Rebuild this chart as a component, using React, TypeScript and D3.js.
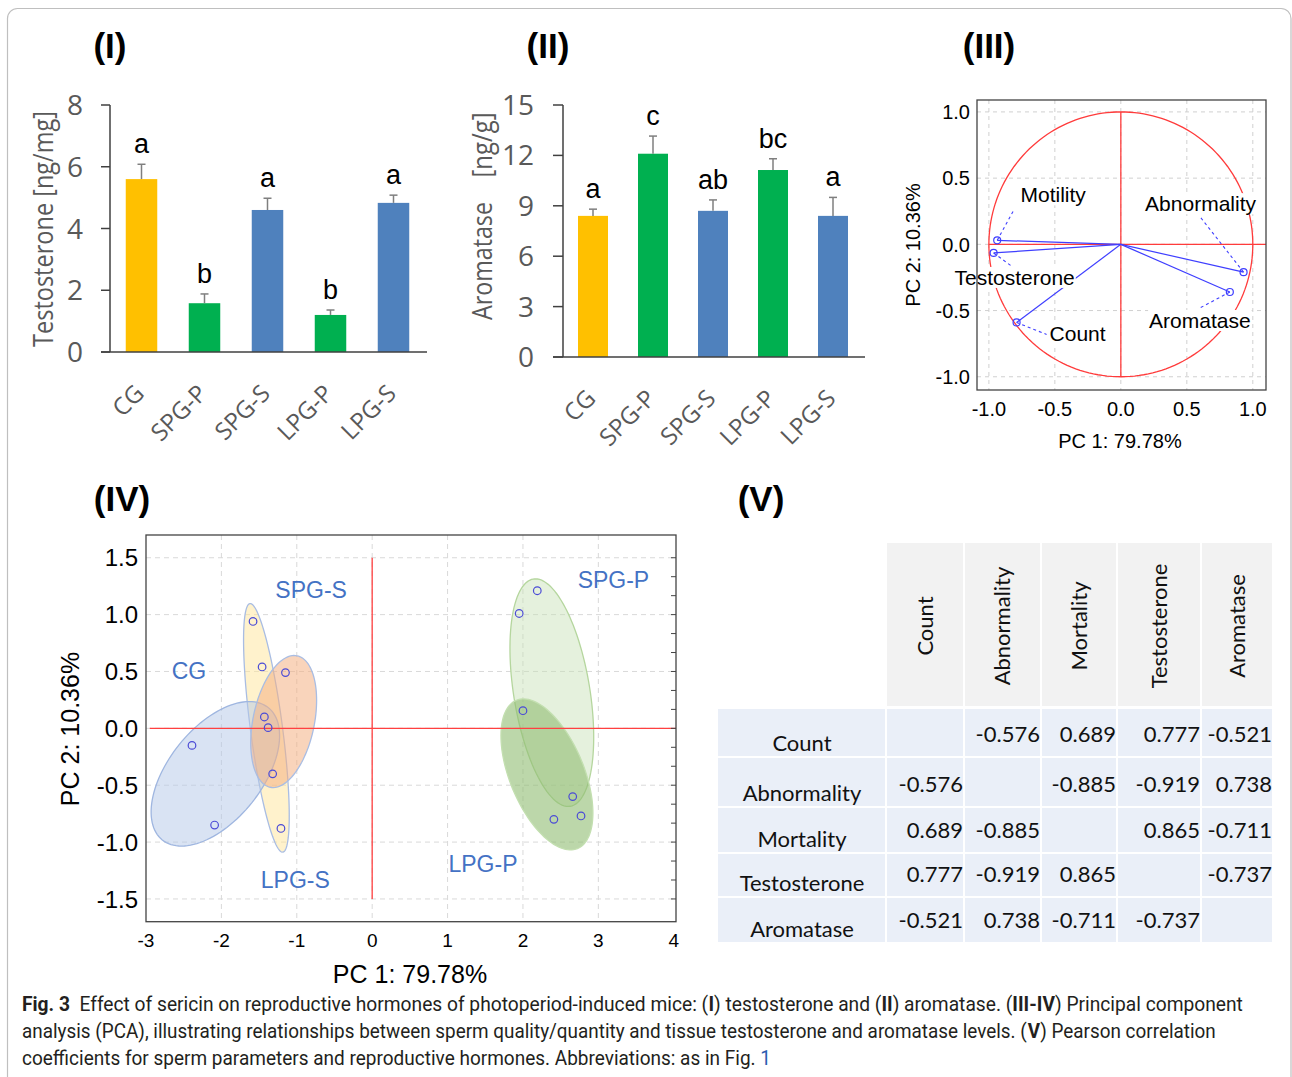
import React, { useEffect, useRef } from 'react';
import * as d3 from 'd3';

// ---------- Data ----------
const groups = ['CG', 'SPG-P', 'SPG-S', 'LPG-P', 'LPG-S'];
const barColors = ['#ffc000', '#00b050', '#4f81bd', '#00b050', '#4f81bd'];

const testosterone = [5.6, 1.58, 4.6, 1.2, 4.83];
const testosteroneErr = [0.48, 0.3, 0.38, 0.16, 0.25];
const testosteroneLetters = ['a', 'b', 'a', 'b', 'a'];
const testosteroneTicks = [0, 2, 4, 6, 8];

const aromatase = [8.4, 12.1, 8.7, 11.13, 8.4];
const aromataseErr = [0.4, 1.05, 0.65, 0.67, 1.1];
const aromataseLetters = ['a', 'c', 'ab', 'bc', 'a'];
const aromataseTicks = [0, 3, 6, 9, 12, 15];

const loadingVars = ['Motility', 'Testosterone', 'Count', 'Abnormality', 'Aromatase'];
const loadingPC1 = [-0.937, -0.964, -0.79, 0.93, 0.826];
const loadingPC2 = [0.03, -0.065, -0.59, -0.21, -0.36];
const unitTicks = [-1, -0.5, 0, 0.5, 1];

const scoreGroups = ['CG', 'CG', 'CG', 'LPG-S', 'LPG-S', 'LPG-S', 'SPG-S', 'SPG-S', 'SPG-S', 'SPG-P', 'SPG-P', 'SPG-P', 'LPG-P', 'LPG-P', 'LPG-P'];
const scorePC1 = [-2.39, -2.09, -1.46, -1.58, -1.38, -1.21, -1.15, -1.32, -1.43, 2.19, 1.95, 2.66, 2.0, 2.41, 2.77];
const scorePC2 = [-0.15, -0.85, 0.54, 0.94, 0.006, -0.88, 0.49, -0.40, 0.10, 1.21, 1.01, -0.60, 0.155, -0.80, -0.77];
const scoreXTicks = [-3, -2, -1, 0, 1, 2, 3, 4];
const scoreYTicks = [-1.5, -1.0, -0.5, 0.0, 0.5, 1.0, 1.5];

// confidence ellipses: centre and two semi-axis vectors, in PC units
const ellipseGroups = ['LPG-S', 'CG', 'SPG-S', 'SPG-P', 'LPG-P'];
const ellipseCenter = [[-1.403, 0.004], [-2.08, -0.40], [-1.174, 0.06], [2.383, 0.314], [2.318, -0.405]];
const ellipseAxisU = [[0.2175, -1.093], [0.704, 0.581], [0.178, 0.578], [-0.244, 0.999], [-0.405, 0.652]];
const ellipseAxisV = [[0.211, 0.0185], [0.48, -0.257], [0.399, -0.054], [0.499, 0.054], [0.456, 0.125]];

const corrVars = ['Count', 'Abnormality', 'Mortality', 'Testosterone', 'Aromatase'];
const corrMatrix: (number | null)[][] = [
  [null, -0.576, 0.689, 0.777, -0.521],
  [-0.576, null, -0.885, -0.919, 0.738],
  [0.689, -0.885, null, 0.865, -0.711],
  [0.777, -0.919, 0.865, null, -0.737],
  [-0.521, 0.738, -0.711, -0.737, null],
];

// ---------- Styles / layout ----------
const GRAY = '#595959';
const SANS = "'Open Sans', 'Noto Sans', sans-serif";
const ARIAL = "'Liberation Sans', Arial, sans-serif";
const TABLE = "Lato, 'Open Sans', sans-serif";

const fmt1 = (v: number) => d3.format('.1f')(v).replace('\u2212', '-');
const fmt3 = (v: number) => d3.format('.3f')(v).replace('\u2212', '-');

const ellipseFill: Record<string, [string, number]> = {
  'CG': ['#b4c7e7', 0.5],
  'LPG-S': ['#ffe699', 0.5],
  'SPG-S': ['#f4b183', 0.55],
  'SPG-P': ['#c5e0b4', 0.45],
  'LPG-P': ['#8fbc72', 0.6],
};
const ellipseStroke: Record<string, string> = {
  'CG': '#9fb6e0', 'LPG-S': '#a9bde3', 'SPG-S': '#a9bde3', 'SPG-P': '#b5d69e', 'LPG-P': '#c3dfb0',
};
const groupLabelPos: Record<string, [number, number]> = {
  'SPG-S': [-0.81, 1.15], 'CG': [-2.43, 0.43], 'SPG-P': [3.2, 1.23], 'LPG-S': [-1.02, -1.4], 'LPG-P': [1.47, -1.26],
};
// label offset (px) and leader end offset (px) from each loading point
const loadingLabelOff: [number, number][] = [[56, -38], [21, 32], [61, 19], [-43, -61], [-30, 36]];
const loadingLeaderOff: [number, number][] = [[17, -31], [19, 14], [30, 12], [-44, -56], [-30, 16]];

type Sel = d3.Selection<SVGGElement, unknown, null, undefined>;

function barPanel(g: Sel, o: {
  values: number[]; errs: number[]; letters: string[]; ticks: number[];
  xr: [number, number]; yr: [number, number]; axisLeft: number; labelRight: number;
}) {
  const max = o.ticks[o.ticks.length - 1];
  const x = d3.scaleBand<string>().domain(groups).range(o.xr).paddingInner(0.5).paddingOuter(0.25);
  const y = d3.scaleLinear().domain([0, max]).range(o.yr);
  const x0 = o.xr[0];
  g.selectAll('rect.bar').data(groups).join('rect')
    .attr('x', (d) => x(d)!).attr('width', x.bandwidth())
    .attr('y', (_, i) => y(o.values[i])).attr('height', (_, i) => y(0) - y(o.values[i]))
    .attr('fill', (_, i) => barColors[i]);
  groups.forEach((gname, i) => {
    const cx = x(gname)! + x.bandwidth() / 2;
    const top = y(o.values[i] + o.errs[i]);
    g.append('line').attr('x1', cx).attr('x2', cx).attr('y1', y(o.values[i])).attr('y2', top)
      .attr('stroke', '#7f7f7f').attr('stroke-width', 1.5);
    g.append('line').attr('x1', cx - 4).attr('x2', cx + 4).attr('y1', top).attr('y2', top)
      .attr('stroke', '#7f7f7f').attr('stroke-width', 1.5);
    g.append('text').attr('x', cx).attr('y', top - 11).attr('text-anchor', 'middle')
      .attr('font-family', ARIAL).attr('font-size', 27).attr('fill', '#000').text(o.letters[i]);
    g.append('text').attr('transform', `translate(${cx + 4},${y(0) + 43}) rotate(-45)`)
      .attr('text-anchor', 'end').attr('font-family', SANS).attr('font-size', 24).attr('fill', GRAY)
      .text(gname);
  });
  g.append('line').attr('x1', x0).attr('x2', x0).attr('y1', y(max)).attr('y2', y(0))
    .attr('stroke', '#404040').attr('stroke-width', 1.5);
  g.append('line').attr('x1', o.axisLeft).attr('x2', o.xr[1] + 2).attr('y1', y(0)).attr('y2', y(0))
    .attr('stroke', '#404040').attr('stroke-width', 1.5);
  o.ticks.forEach((t) => {
    g.append('line').attr('x1', o.axisLeft).attr('x2', x0).attr('y1', y(t)).attr('y2', y(t))
      .attr('stroke', '#404040').attr('stroke-width', 1.5);
    g.append('text').attr('x', o.labelRight).attr('y', y(t)).attr('dy', '0.36em').attr('text-anchor', 'end')
      .attr('font-family', SANS).attr('font-size', 28).attr('fill', GRAY).text(String(t));
  });
}

export default function App() {
  const ref = useRef<SVGSVGElement>(null);
  useEffect(() => {
    const svg = d3.select(ref.current!);
    svg.selectAll('*').remove();
    const root = svg.append('g') as unknown as Sel;

    root.append('rect').attr('x', 7.5).attr('y', 8.5).attr('width', 1283.5).attr('height', 1080)
      .attr('rx', 10).attr('fill', 'none').attr('stroke', '#bfbfbf').attr('stroke-width', 1.2);

    const titles: [string, number, number][] = [['(I)', 110, 58], ['(II)', 548, 58], ['(III)', 989, 58], ['(IV)', 122, 511], ['(V)', 761, 511]];
    titles.forEach(([t, x, y]) => {
      root.append('text').attr('x', x).attr('y', y).attr('text-anchor', 'middle')
        .attr('font-family', ARIAL).attr('font-weight', 'bold').attr('font-size', 35).attr('fill', '#000').text(t);
    });

    // ---------- Panel I ----------
    const p1 = root.append('g') as unknown as Sel;
    barPanel(p1, { values: testosterone, errs: testosteroneErr, letters: testosteroneLetters, ticks: testosteroneTicks,
      xr: [110, 425], yr: [352, 105], axisLeft: 101, labelRight: 83 });
    p1.append('text').attr('transform', 'translate(43,229) rotate(-90)').attr('dy', '0.36em')
      .attr('text-anchor', 'middle').attr('font-family', SANS).attr('font-size', 27).attr('fill', GRAY)
      .attr('textLength', 236).attr('lengthAdjust', 'spacingAndGlyphs').text('Testosterone [ng/mg]');

    // ---------- Panel II ----------
    const p2 = root.append('g') as unknown as Sel;
    barPanel(p2, { values: aromatase, errs: aromataseErr, letters: aromataseLetters, ticks: aromataseTicks,
      xr: [563, 863], yr: [357, 105], axisLeft: 553, labelRight: 534 });
    p2.append('text').attr('transform', 'translate(482,261) rotate(-90)').attr('dy', '0.36em')
      .attr('text-anchor', 'middle').attr('font-family', SANS).attr('font-size', 27).attr('fill', GRAY)
      .attr('textLength', 118).attr('lengthAdjust', 'spacingAndGlyphs').text('Aromatase');
    p2.append('text').attr('transform', 'translate(482,145) rotate(-90)').attr('dy', '0.36em')
      .attr('text-anchor', 'middle').attr('font-family', SANS).attr('font-size', 27).attr('fill', GRAY)
      .attr('textLength', 65).attr('lengthAdjust', 'spacingAndGlyphs').text('[ng/g]');

    // ---------- Panel III ----------
    const p3 = root.append('g') as unknown as Sel;
    const x3 = d3.scaleLinear().domain([-1.09, 1.1]).range([977, 1266]);
    const y3 = d3.scaleLinear().domain([-1.1, 1.09]).range([390, 100]);
    unitTicks.forEach((t) => {
      p3.append('line').attr('x1', x3(t)).attr('x2', x3(t)).attr('y1', 100).attr('y2', 390)
        .attr('stroke', '#d0d0d0').attr('stroke-dasharray', '4,4');
      p3.append('line').attr('y1', y3(t)).attr('y2', y3(t)).attr('x1', 977).attr('x2', 1266)
        .attr('stroke', '#d0d0d0').attr('stroke-dasharray', '4,4');
    });
    const angles = d3.range(0, 361, 2).map((a) => (a * Math.PI) / 180);
    p3.append('path').attr('d', d3.line<number>().x((a) => x3(Math.cos(a))).y((a) => y3(Math.sin(a)))(angles))
      .attr('fill', 'none').attr('stroke', '#ff3b3b').attr('stroke-width', 1.3);
    p3.append('line').attr('x1', x3(0)).attr('x2', x3(0)).attr('y1', y3(1)).attr('y2', y3(-1))
      .attr('stroke', '#ff3b3b').attr('stroke-width', 1.3);
    p3.append('line').attr('x1', x3(-1)).attr('x2', x3(1.1)).attr('y1', y3(0)).attr('y2', y3(0))
      .attr('stroke', '#ff3b3b').attr('stroke-width', 1.3);
    loadingVars.forEach((v, i) => {
      const px = x3(loadingPC1[i]);
      const py = y3(loadingPC2[i]);
      p3.append('line').attr('x1', x3(0)).attr('y1', y3(0)).attr('x2', px).attr('y2', py)
        .attr('stroke', '#3f3fff').attr('stroke-width', 1.2);
      p3.append('line').attr('x1', px).attr('y1', py)
        .attr('x2', px + loadingLeaderOff[i][0]).attr('y2', py + loadingLeaderOff[i][1])
        .attr('stroke', '#3f3fff').attr('stroke-width', 1.1).attr('stroke-dasharray', '3,3');
      p3.append('circle').attr('cx', px).attr('cy', py).attr('r', 3.5)
        .attr('fill', 'none').attr('stroke', '#3f3fff').attr('stroke-width', 1.2);
    });
    loadingVars.forEach((v, i) => {
      const px = x3(loadingPC1[i]) + loadingLabelOff[i][0];
      const py = y3(loadingPC2[i]) + loadingLabelOff[i][1];
      const bg = p3.append('rect').attr('fill', '#fff');
      const t = p3.append('text').attr('x', px).attr('y', py).attr('text-anchor', 'middle')
        .attr('font-family', ARIAL).attr('font-size', 21).attr('fill', '#000').text(v);
      const bb = (t.node() as SVGTextElement).getBBox();
      bg.attr('x', bb.x - 1).attr('y', bb.y + 1).attr('width', bb.width + 2).attr('height', bb.height - 2);
    });
    p3.append('rect').attr('x', 977).attr('y', 100).attr('width', 289).attr('height', 290)
      .attr('fill', 'none').attr('stroke', '#444').attr('stroke-width', 1.3);
    unitTicks.forEach((t) => {
      p3.append('text').attr('x', x3(t)).attr('y', 416).attr('text-anchor', 'middle')
        .attr('font-family', ARIAL).attr('font-size', 20).attr('fill', '#000').text(fmt1(t));
      p3.append('text').attr('x', 970).attr('y', y3(t)).attr('dy', '0.36em').attr('text-anchor', 'end')
        .attr('font-family', ARIAL).attr('font-size', 20).attr('fill', '#000').text(fmt1(t));
    });
    p3.append('text').attr('x', 1120).attr('y', 448).attr('text-anchor', 'middle')
      .attr('font-family', ARIAL).attr('font-size', 20).attr('fill', '#000').text('PC 1: 79.78%');
    p3.append('text').attr('transform', 'translate(913,245) rotate(-90)').attr('dy', '0.36em')
      .attr('text-anchor', 'middle').attr('font-family', ARIAL).attr('font-size', 20).attr('fill', '#000')
      .text('PC 2: 10.36%');

    // ---------- Panel IV ----------
    const p4 = root.append('g') as unknown as Sel;
    const x4 = d3.scaleLinear().domain([-3, 4.03]).range([146, 676]);
    const y4 = d3.scaleLinear().domain([-1.7, 1.7]).range([921.7, 535]);
    scoreXTicks.slice(1, -1).forEach((t) => {
      p4.append('line').attr('x1', x4(t)).attr('x2', x4(t)).attr('y1', 535).attr('y2', 921.7)
        .attr('stroke', '#d9d9d9').attr('stroke-dasharray', '5,4');
    });
    scoreYTicks.forEach((t) => {
      p4.append('line').attr('y1', y4(t)).attr('y2', y4(t)).attr('x1', 146).attr('x2', 676)
        .attr('stroke', '#d9d9d9').attr('stroke-dasharray', '5,4');
    });
    const ts = d3.range(0, 361, 3).map((a) => (a * Math.PI) / 180);
    ellipseGroups.forEach((gname, i) => {
      const [cx, cy] = ellipseCenter[i];
      const u = ellipseAxisU[i];
      const v = ellipseAxisV[i];
      const line = d3.line<number>()
        .x((t) => x4(cx + Math.cos(t) * u[0] + Math.sin(t) * v[0]))
        .y((t) => y4(cy + Math.cos(t) * u[1] + Math.sin(t) * v[1]));
      p4.append('path').attr('d', line(ts))
        .attr('fill', ellipseFill[gname][0]).attr('fill-opacity', ellipseFill[gname][1])
        .attr('stroke', ellipseStroke[gname]).attr('stroke-width', 1.3);
    });
    p4.append('line').attr('x1', x4(0)).attr('x2', x4(0)).attr('y1', y4(1.5)).attr('y2', y4(-1.5))
      .attr('stroke', '#ff4040').attr('stroke-width', 1.3);
    p4.append('line').attr('x1', x4(-2.95)).attr('x2', x4(4.03)).attr('y1', y4(0)).attr('y2', y4(0))
      .attr('stroke', '#ff4040').attr('stroke-width', 1.3);
    scorePC1.forEach((v, i) => {
      p4.append('circle').attr('cx', x4(v)).attr('cy', y4(scorePC2[i])).attr('r', 3.8)
        .attr('fill', 'none').attr('stroke', '#4b4bd6').attr('stroke-width', 1.2)
        .attr('data-group', scoreGroups[i]);
    });
    Object.keys(groupLabelPos).forEach((gname) => {
      const [lx, ly] = groupLabelPos[gname];
      p4.append('text').attr('x', x4(lx)).attr('y', y4(ly)).attr('text-anchor', 'middle')
        .attr('font-family', ARIAL).attr('font-size', 23).attr('fill', '#4472c4').text(gname);
    });
    p4.append('rect').attr('x', 146).attr('y', 535).attr('width', 530).attr('height', 386.7)
      .attr('fill', 'none').attr('stroke', '#444').attr('stroke-width', 1.3);
    d3.range(-1.5, 1.51, 0.5 / 3).forEach((t) => {
      p4.append('line').attr('x1', 671).attr('x2', 676).attr('y1', y4(t)).attr('y2', y4(t))
        .attr('stroke', '#444').attr('stroke-width', 1);
    });
    scoreXTicks.forEach((t) => {
      p4.append('text').attr('x', x4(t)).attr('y', 947).attr('text-anchor', 'middle')
        .attr('font-family', ARIAL).attr('font-size', 19).attr('fill', '#000').text(String(t));
    });
    scoreYTicks.forEach((t) => {
      p4.append('text').attr('x', 138).attr('y', y4(t)).attr('dy', '0.36em').attr('text-anchor', 'end')
        .attr('font-family', ARIAL).attr('font-size', 24).attr('fill', '#000').text(fmt1(t));
    });
    p4.append('text').attr('x', 410).attr('y', 983).attr('text-anchor', 'middle')
      .attr('font-family', ARIAL).attr('font-size', 25).attr('fill', '#000').text('PC 1: 79.78%');
    p4.append('text').attr('transform', 'translate(70,729) rotate(-90)').attr('dy', '0.36em')
      .attr('text-anchor', 'middle').attr('font-family', ARIAL).attr('font-size', 25).attr('fill', '#000')
      .text('PC 2: 10.36%');

    // ---------- Panel V (table) ----------
    const p5 = root.append('g') as unknown as Sel;
    const colEdges = [886, 964, 1041, 1117, 1201, 1273];
    const rowEdges = [708, 757, 807, 853, 897, 943];
    const headerTop = 543;
    const labelLeft = 718;
    corrVars.forEach((v, j) => {
      const xa = colEdges[j];
      const xb = colEdges[j + 1];
      p5.append('rect').attr('x', xa + 1).attr('y', headerTop).attr('width', xb - xa - 2)
        .attr('height', rowEdges[0] - headerTop - 2).attr('fill', '#f2f2f2');
      p5.append('text').attr('transform', `translate(${(xa + xb) / 2},626) rotate(-90)`).attr('dy', '0.36em')
        .attr('text-anchor', 'middle').attr('font-family', TABLE).attr('font-size', 22).attr('fill', '#111').text(v);
    });
    corrVars.forEach((v, i) => {
      const ya = rowEdges[i];
      const yb = rowEdges[i + 1];
      p5.append('rect').attr('x', labelLeft).attr('y', ya + 1).attr('width', colEdges[0] - labelLeft - 1)
        .attr('height', yb - ya - 2).attr('fill', '#eaeff8');
      p5.append('text').attr('x', (labelLeft + colEdges[0]) / 2).attr('y', yb - 6).attr('text-anchor', 'middle')
        .attr('font-family', TABLE).attr('font-size', 22).attr('fill', '#111').text(v);
      corrVars.forEach((_, j) => {
        const xa = colEdges[j];
        const xb = colEdges[j + 1];
        p5.append('rect').attr('x', xa + 1).attr('y', ya + 1).attr('width', xb - xa - 2)
          .attr('height', yb - ya - 2).attr('fill', '#eaeff8');
        const val = corrMatrix[i][j];
        if (val !== null) {
          p5.append('text').attr('x', xb - 1).attr('y', yb - 15).attr('text-anchor', 'end')
            .attr('font-family', TABLE).attr('font-size', 22).attr('fill', '#111').text(fmt3(val));
        }
      });
    });

    // ---------- Caption ----------
    const capFont = "'Liberation Sans Narrow', Roboto, 'Open Sans', sans-serif";
    const lines: { y: number; len: number; parts: [string, string?][] }[] = [
      { y: 1011, len: 1221, parts: [['Fig. 3', 'b'], ['\u00a0\u00a0Effect of sericin on reproductive hormones of photoperiod-induced mice: ('], ['I', 'b'], [') testosterone and ('], ['II', 'b'], [') aromatase. ('], ['III-IV', 'b'], [') Principal component']] },
      { y: 1038, len: 1194, parts: [['analysis (PCA), illustrating relationships between sperm quality/quantity and tissue testosterone and aromatase levels. ('], ['V', 'b'], [') Pearson correlation']] },
      { y: 1065, len: 749, parts: [['coefficients for sperm parameters and reproductive hormones. Abbreviations: as in Fig.\u00a0'], ['1', 'link']] },
    ];
    lines.forEach((ln) => {
      const lg = root.append('g');
      let cursor = 0;
      ln.parts.forEach(([s, k]) => {
        const t = lg.append('text').attr('x', cursor).attr('y', 0).attr('font-family', capFont)
          .attr('font-size', 19.5).attr('fill', k === 'link' ? '#2a5db0' : '#231f20').text(s);
        if (k === 'b') t.attr('font-weight', 'bold');
        cursor += (t.node() as SVGTextElement).getComputedTextLength();
      });
      lg.attr('transform', `translate(22,${ln.y}) scale(${ln.len / cursor},1)`);
    });
  }, []);
  return (
    <svg ref={ref} width={1292} height={1077}
      style={{ position: 'absolute', left: 0, top: 0, background: '#fff' }} />
  );
}
